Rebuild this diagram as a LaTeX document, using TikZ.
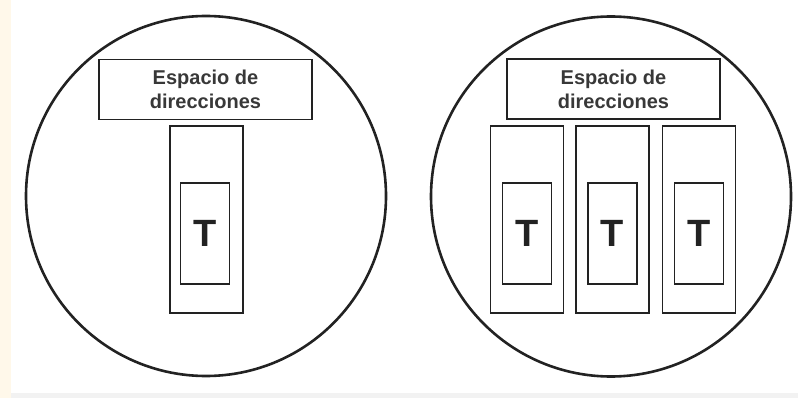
\documentclass[tikz,border=0pt]{standalone}
\usepackage{fontspec}
\setmainfont{Liberation Sans}
\definecolor{crema}{HTML}{FFF8EA}
\definecolor{tinta}{HTML}{222222}

\begin{document}
\begin{tikzpicture}[x=1pt, y=-1pt,
    proceso/.style={draw=tinta, line width=2.6pt, circle, inner sep=0pt, minimum size=360pt},
    espacio/.style={draw=tinta, line width=1.2pt, inner sep=0pt, minimum width=213pt, minimum height=60pt,
      align=center, font=\bfseries\fontsize{20}{24}\selectfont, text=tinta!90},
    pila/.style={draw=tinta, line width=1.2pt, inner sep=0pt, minimum width=73pt, minimum height=187pt},
    hilo/.style={draw=tinta, line width=1.1pt, inner sep=0pt, minimum width=49pt, minimum height=101pt,
      font=\bfseries\fontsize{38}{38}\selectfont, text=tinta}]
      \useasboundingbox (0,0) rectangle (798,398);
      \fill[crema] (0,0) rectangle (11,398);
      \fill[black!5] (11,393) rectangle (798,398);

      % un solo hilo
      \node[proceso] (p1) at (206,196) {};
      \node[espacio] (e1) at (205.5,89.5) {Espacio de\\direcciones};
      \node[pila] (s1) at (206.5,219.5) {};
      \node[hilo] (t1) at (205,233.5) {T};

      % varios hilos
      \node[proceso] (p2) at (611,196.5) {};
      \node[espacio] (e2) at (613.5,89) {Espacio de\\direcciones};
      \node[pila] (s2) at (527,219.5) {};
      \node[pila] (s3) at (612.5,219.5) {};
      \node[pila] (s4) at (699,219.5) {};
      \node[hilo] (t2) at (527,233.5) {T};
      \node[hilo] (t3) at (612.5,233.5) {T};
      \node[hilo] (t4) at (699,233.5) {T};
  \end{tikzpicture}
\end{document}
